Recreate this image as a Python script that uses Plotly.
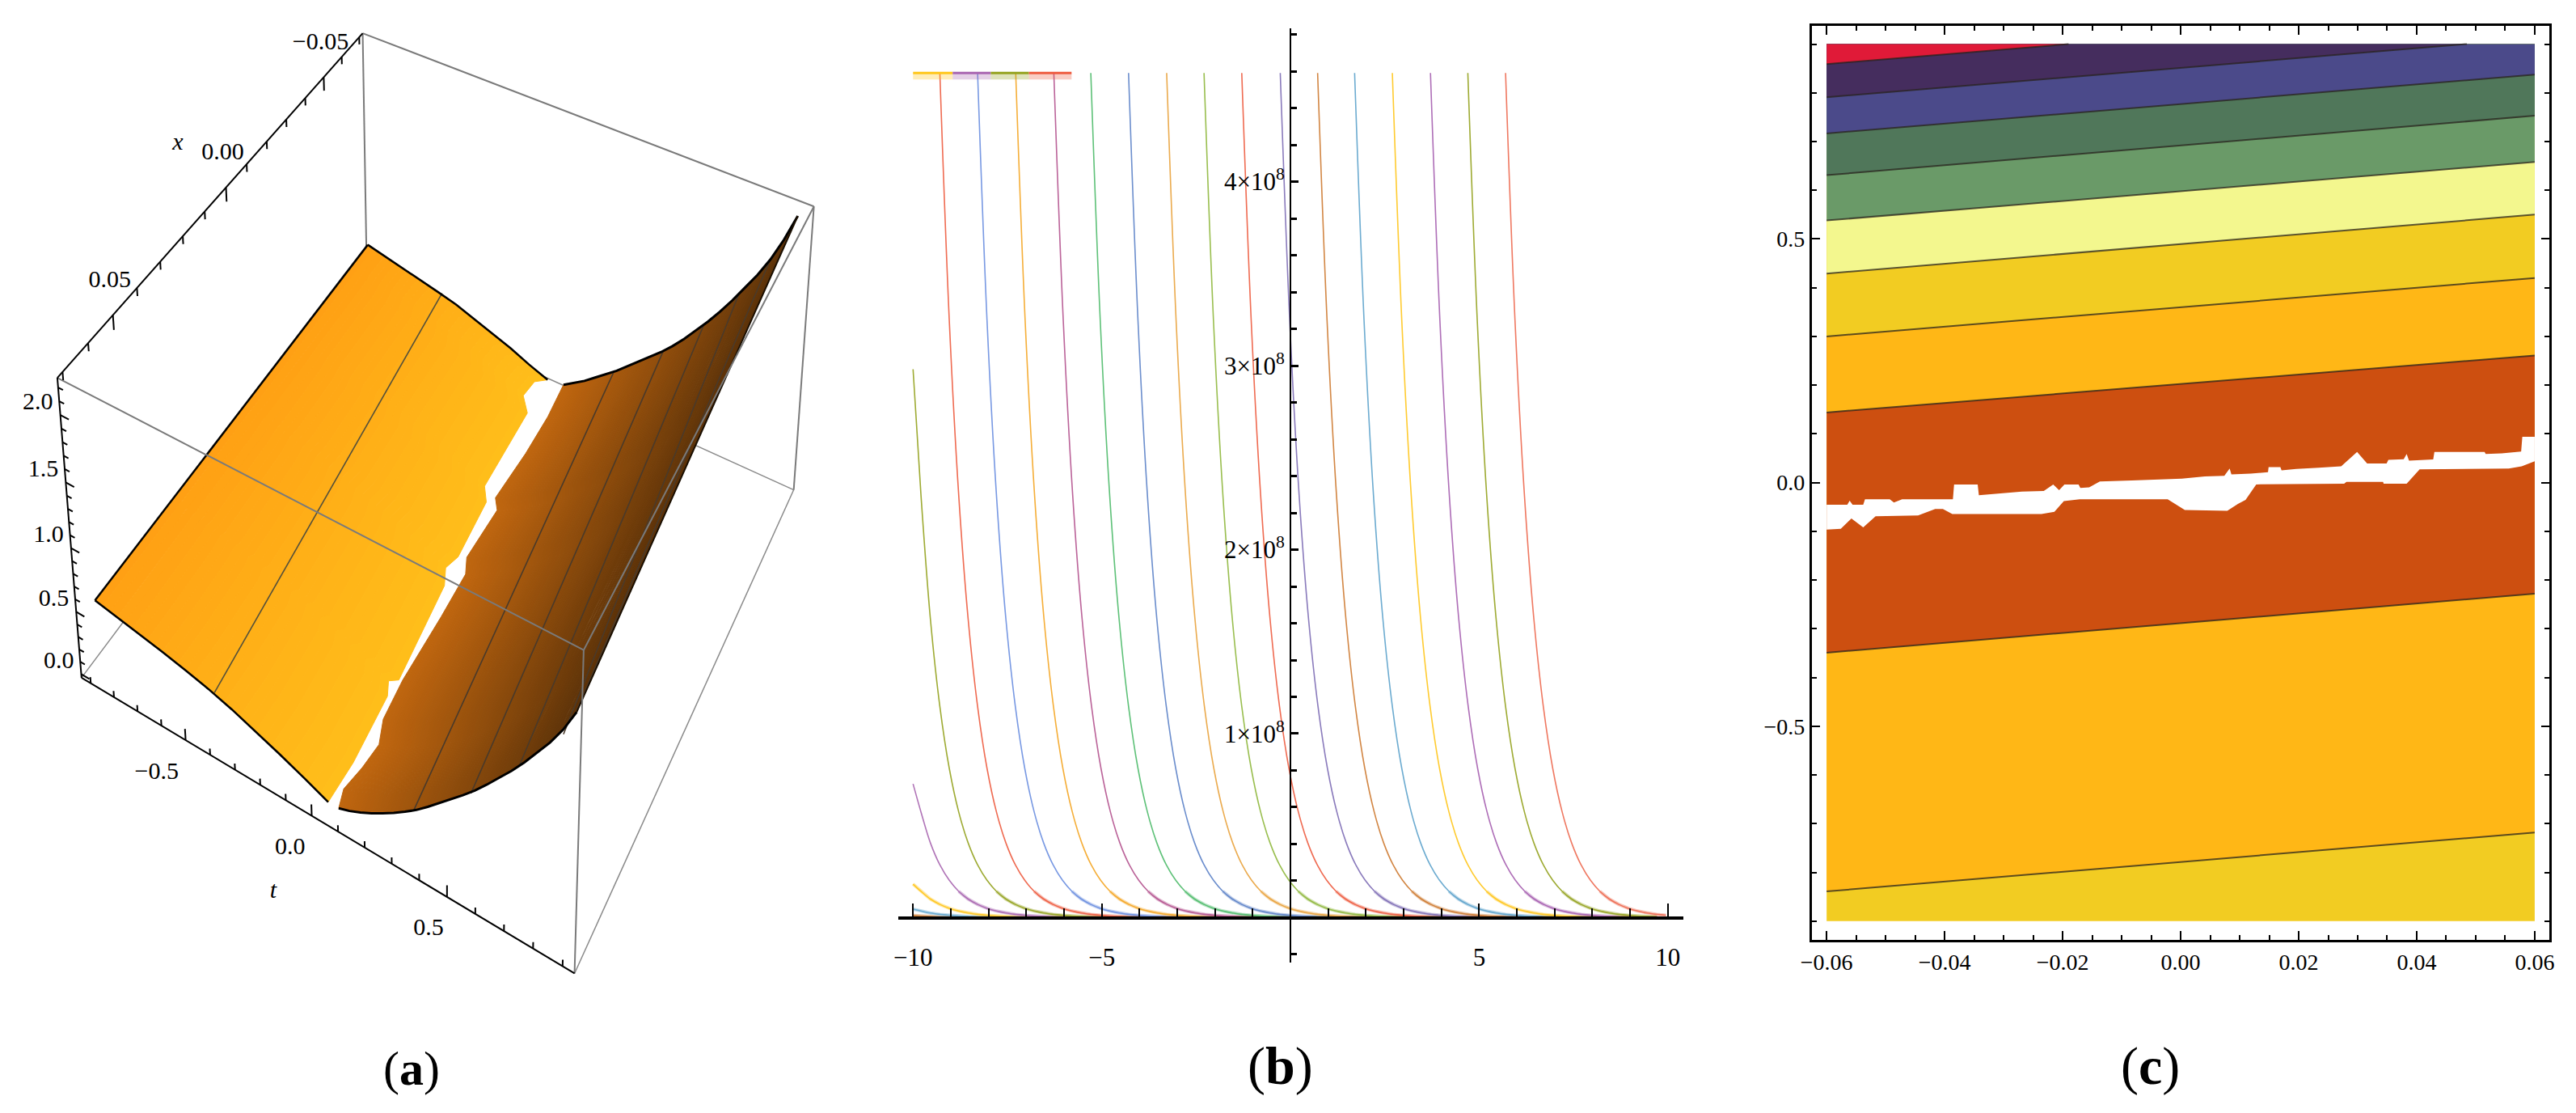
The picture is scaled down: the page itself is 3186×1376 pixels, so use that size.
import numpy as np
import plotly.graph_objects as go

W, H = 3186, 1376
SERIF = "Liberation Serif"

# ---------- panel (b) data (values in units of 1e8) ----------
curve_top_x = [-14.29, -13.29, -12.29, -11.29, -10.29, -9.29, -8.29, -7.28, -6.27, -5.29, -4.29,
               -3.28, -2.29, -1.29, -0.27, 0.72, 1.70, 2.70, 3.71, 4.70, 5.70]
curve_start_left = [0.0115, 0.046, 0.182, 0.727, 2.98, None, None, None, None, None, None,
                    None, None, None, None, None, None, None, None, None, None]
curve_colors = ["#C9792F", "#62A7CF", "#FFC61A", "#A865B0", "#94A21E", "#EE5B3F", "#6A8EE0", "#F5A623",
                "#B4538F", "#4DBB6A", "#5C82C8", "#E9A23B", "#8FB83C", "#EE5B3F", "#7E6DB5", "#CE7A30",
                "#5DA3CC", "#FFC61A", "#A65FB0", "#94A21E", "#EE6A50"]
shape_d = [0, .25, .5, .75, 1, 1.25, 1.5, 1.75, 2, 2.25, 2.5, 2.75, 3, 3.25, 3.5, 3.75, 4, 4.25, 4.5, 4.75, 5,
           5.5, 6, 7, 9, 12, 16, 20, 25]
shape_y = [4.59, 3.245, 2.295, 1.622, 1.148, .811, .574, .406, .287, .203, .143, .101, .072, .051, .036, .025,
           .018, .013, .009, .0063, .0045, .0022, .0011, .0003, .00002, 0, 0, 0, 0]
top_seg_x0 = [-10.0, -8.95, -7.94, -6.93]
top_seg_x1 = [-8.95, -7.94, -6.93, -5.80]
top_seg_colors = ["#FFC61A", "#A865B0", "#94A21E", "#EE5B3F"]
top_level = 4.59
b_major_y = [1, 2, 3, 4]
b_labels_y = ["1×10<sup>8</sup>", "2×10<sup>8</sup>", "3×10<sup>8</sup>", "4×10<sup>8</sup>"]
b_minor_y = [-.2, 0, .2, .4, .6, .8, 1.2, 1.4, 1.6, 1.8, 2.2, 2.4, 2.6, 2.8, 3.2, 3.4, 3.6, 3.8, 4.2, 4.4, 4.6, 4.8]
b_major_x = [-10, -5, 5, 10]
b_labels_x = ["−10", "−5", "5", "10"]
b_minor_x = [-9, -8, -7, -6, -4, -3, -2, -1, 1, 2, 3, 4, 6, 7, 8, 9]

# ---------- panel (c) data ----------
band_colors = ["#F2CC22", "#FFB716", "#CD4F10", "#FFB716", "#F2CC22", "#F3F78E", "#6A9A68", "#50775A",
               "#4B4A8A", "#452D5E", "#E01A38"]
bound_x1 = [.06, .06, .06, .06, .06, .06, .06, .06, .0485, -.019]
bound_left = [-.839, -.349, .144, .30, .429, .538, .631, .7166, .791, .859]
bound_right = [-.718, -.228, .261, .42, .55, .658, .753, .8374, .90, .90]
gap_up_x = [-.06, -.0565, -.0561, -.0556, -.0538, -.0535, -.0493, -.0486, -.0472, -.0386, -.0384, -.0344, -.0342,
            -.0306, -.0269, -.0232, -.0216, -.0206, -.0197, -.0173, -.0170, -.0155, -.0137, -.0083, .0002, .0041,
            .0074, .0083, .0086, .0119, .0148, .0149, .0169, .0171, .0196, .0234, .0272, .0299, .0316, .0349,
            .0352, .0378, .0383, .0387, .0428, .0430, .0515, .0517, .0544, .0577, .0579, .06]
gap_up_t = [-.0452, -.0452, -.0371, -.0452, -.0452, -.0341, -.0341, -.0408, -.0341, -.0341, -.0037, -.0037, -.0259,
            -.0222, -.0185, -.0170, -.0037, -.0156, -.0037, -.0037, -.0111, -.0096, .0022, .0044, .0082, .0126,
            .0141, .0289, .0170, .0185, .0215, .0319, .0319, .0252, .0282, .0304, .0334, .0630, .0393, .0393,
            .0467, .0482, .0586, .0452, .0474, .0630, .0630, .0586, .0600, .0638, .0941, .0941]
gap_lo_x = [-.06, -.0576, -.0558, -.0538, -.0517, -.0445, -.0416, -.0403, -.0387, -.0236, -.0214, -.0198, -.0171,
            -.0022, .0007, .0079, .0097, .0110, .0128, .0277, .0281, .0343, .0344, .0383, .0405, .0556, .0578, .06]
gap_lo_t = [-.0964, -.0949, -.0734, -.0919, -.0689, -.0675, -.0541, -.0541, -.0645, -.0645, -.0600, -.0378, -.0341,
            -.0341, -.0563, -.0578, -.0437, -.0356, -.0037, -.0022, .0015, .0015, -.0022, -.0022, .0274, .0289,
            .0334, .0437]
c_major_x = [-.06, -.04, -.02, 0, .02, .04, .06]
c_labels_x = ["−0.06", "−0.04", "−0.02", "0.00", "0.02", "0.04", "0.06"]
c_minor_x = [-.055, -.05, -.045, -.035, -.03, -.025, -.015, -.01, -.005, .005, .01, .015, .025, .03, .035, .045, .05, .055]
c_major_y = [-.5, 0, .5]
c_labels_y = ["−0.5", "0.0", "0.5"]
c_minor_y = [-.9, -.8, -.7, -.6, -.4, -.3, -.2, -.1, .1, .2, .3, .4, .6, .7, .8, .9]
t_edge = 0.9
x_edge_c = 0.06

# ---------- panel (a) data ----------
x_edge_a = 0.068
a_gap_lo_x = [-.068, -.0655, -.0595, -.0547, -.0487, -.0272, -.0230, -.0045, 0.0, .0047, .0332, .0347, .0383, .0569, .068]
a_gap_lo_t = [-.07, -.1117, -.1211, -.0707, -.0704, -.0663, -.0293, -.0151, -.0339, -.0043, .0266, -.0027, .0211, .0353, .03]
a_gap_up_x = [-.068, -.0558, -.0418, -.0250, -.0218, -.0052, -.0007, .0131, .0329, .0440, .0500, .0569, .0635, .068]
a_gap_up_t = [0, .0107, .0088, -.0048, .0247, .0157, .0431, .0442, .0396, .0494, .08, .07, .0523, .07]
left_s = [0, .1, .2, .3, .4, .5, .6, .7, .8, .9, 1]
left_h_front = [.534, .50, .465, .43, .39, .345, .29, .225, .155, .08, 0]
left_h_back = [.55, .515, .48, .445, .405, .365, .31, .255, .195, .125, .064]
right_s = [0, .05, .1, .15, .2, .25, .3, .35, .4, .45, .5, .55, .6, .65, .7, .75, .8, .85, .9, .95, 1]
right_h_front = [0, .03, .07, .115, .165, .22, .28, .345, .42, .5, .58, .66, .745, .84, .94, 1.04, 1.15, 1.27, 1.39, 1.53, 1.7]
right_h_back = [.084, .14, .2, .27, .34, .41, .49, .57, .65, .73, .82, .92, 1.03, 1.14, 1.26, 1.39, 1.53, 1.67, 1.83, 2.02, 2.24]
mesh_left_t = [-.55, -.41]
mesh_left_z = [.41, .344]
mesh_t_back = [.215, .415, .57, .70, .81]
mesh_t_front = [.353, .555, .717, .86, .90]
mesh_z_back = [.40, .755, 1.1, 1.47, 1.83]
mesh_z_front = [.34, .71, 1.10, 1.50, 1.71]
box_x = [-.072, .072]
box_t = [-.94, .94]
box_z = [-.03, 2.27]
a_t_major = [-.5, 0, .5]
a_t_labels = ["−0.5", "0.0", "0.5"]
a_t_dx = [-36, -27, -23]
a_t_minor = [-.9, -.8, -.7, -.6, -.4, -.3, -.2, -.1, .1, .2, .3, .4, .6, .7, .8, .9]
a_x_major = [-.05, 0, .05]
a_x_labels = ["−0.05", "0.00", "0.05"]
a_x_minor = [-.07, -.06, -.04, -.03, -.02, -.01, .01, .02, .03, .04, .06, .07]
a_z_major = [0, .5, 1, 1.5, 2]
a_z_labels = ["0.0", "0.5", "1.0", "1.5", "2.0"]
a_z_minor = [.1, .2, .3, .4, .6, .7, .8, .9, 1.1, 1.2, 1.3, 1.4, 1.6, 1.7, 1.8, 1.9, 2.1, 2.2]
left_colors = ("#FFA014", "#FFBE1A")
right_colors = ("#C0660F", "#5A3108")

# View calibration of the drawn box: (x side, t side, z side) -> where that corner sits in panel (a)
view_sides = [(1, -1, 1), (-1, -1, 1), (-1, 1, 1), (1, 1, 1), (1, -1, -1), (1, 1, -1), (-1, 1, -1)]
view_u = [57, 437, 999, 713, 88, 700, 974]
view_v = [467, 41, 256, 803, 838, 1204, 605]

rows_ = []
for (a_, b_, c_), u_, v_ in zip(view_sides, view_u, view_v):
    u_, v_ = u_/1000, v_/1000
    rows_.append([a_, b_, c_, 1, 0, 0, 0, 0, -u_*a_, -u_*b_, -u_*c_, -u_])
    rows_.append([0, 0, 0, 0, a_, b_, c_, 1, -v_*a_, -v_*b_, -v_*c_, -v_])
CAM = np.linalg.svd(np.array(rows_, float))[2][-1].reshape(3, 4)
bx0, bx1 = box_x; bt0, bt1 = box_t; bz0, bz1 = box_z


def project(x, t, z):
    x, t, z = np.asarray(x, float), np.asarray(t, float), np.asarray(z, float)
    h = np.stack([(x-(bx0+bx1)/2)/((bx1-bx0)/2), (t-(bt0+bt1)/2)/((bt1-bt0)/2), (z-(bz0+bz1)/2)/((bz1-bz0)/2),
                  np.ones_like(x)])
    q = CAM@h
    return q[0]/q[2]*1000, q[1]/q[2]*1000


fig = go.Figure()


def seg2d(segs, color, width):
    xs, ys = [], []
    for (p, q) in segs:
        a, b = project(*p), project(*q)
        xs += [float(a[0]), float(b[0]), None]
        ys += [float(a[1]), float(b[1]), None]
    fig.add_trace(go.Scatter(x=xs, y=ys, mode="lines", line=dict(color=color, width=width), xaxis="x3", yaxis="y3",
                             hoverinfo="skip", showlegend=False))


def path2d(x, t, z, color, width):
    a, b = project(x, t, z)
    fig.add_trace(go.Scatter(x=a, y=b, mode="lines", line=dict(color=color, width=width), xaxis="x3", yaxis="y3",
                             hoverinfo="skip", showlegend=False))


def mix(c0, c1, f):
    a = [int(c0[i:i+2], 16) for i in (1, 3, 5)]
    b = [int(c1[i:i+2], 16) for i in (1, 3, 5)]
    return "rgb(%d,%d,%d)" % tuple(round(p+(q-p)*f) for p, q in zip(a, b))


def strips(X_, T_, Z_, S_, colors, parts):
    for i in range(len(S_)-1):
        for k in range(parts):
            f0, f1 = k/parts, (k+1)/parts
            sm = S_[i]+(S_[i+1]-S_[i])*(f0+f1)/2
            col = mix(colors[0], colors[1], sm)
            a0, b0 = project(X_[i], T_[i]+(T_[i+1]-T_[i])*f0, Z_[i]+(Z_[i+1]-Z_[i])*f0)
            a1, b1 = project(X_[i], T_[i]+(T_[i+1]-T_[i])*f1, Z_[i]+(Z_[i+1]-Z_[i])*f1)
            fig.add_trace(go.Scatter(x=np.r_[a0, a1[::-1]], y=np.r_[b0, b1[::-1]], mode="lines", fill="toself",
                                     fillcolor=col, line=dict(color=col, width=1), xaxis="x3", yaxis="y3",
                                     hoverinfo="skip", showlegend=False))


# back box edges, hidden by the surface where they pass beneath it
seg2d([((bx0, bt1, bz0), (bx1, bt1, bz0)), ((bx0, bt1, bz0), (bx0, bt0, bz0)), ((bx0, bt0, bz0), (bx1, bt0, bz0))],
      "#8A8A8A", 1.5)
seg2d([((bx0, bt0, bz1), (bx0, bt0, bz0)), ((bx0, bt1, bz0), (bx0, bt1, bz1))], "#7A7A7A", 2)

lx = np.array(a_gap_lo_x); lt = np.array(a_gap_lo_t)
ls = np.array(left_s)[:, None]
LX = np.tile(lx, (len(left_s), 1))
LT = -t_edge + ls*(lt+t_edge)
lblend = (lx+x_edge_a)/(2*x_edge_a)
LZ = np.array(left_h_back)[:, None]*(1-lblend) + np.array(left_h_front)[:, None]*lblend
strips(LX, LT, LZ, left_s, left_colors, 3)

ux = np.array(a_gap_up_x); ut = np.array(a_gap_up_t)
rs = np.array(right_s)[:, None]
RX = np.tile(ux, (len(right_s), 1))
RT = ut + rs*(t_edge-ut)
blend = (ux+x_edge_a)/(2*x_edge_a)
RZ = np.array(right_h_back)[:, None]*(1-blend) + np.array(right_h_front)[:, None]*blend
strips(RX, RT, RZ, right_s, right_colors, 3)

# mesh lines on the surface
path2d([-x_edge_a, x_edge_a], mesh_left_t, mesh_left_z, "#55503A", 1.6)
for tb, tf, zb, zf in zip(mesh_t_back, mesh_t_front, mesh_z_back, mesh_z_front):
    path2d([-x_edge_a, x_edge_a], [tb, tf], [zb, zf], "#4A3A2A", 1.6)

# surface outline
path2d(LX[:, 0], LT[:, 0], LZ[:, 0], "#000000", 2.5)
path2d(LX[:, -1], LT[:, -1], LZ[:, -1], "#000000", 2.5)
path2d(LX[0], LT[0], LZ[0], "#000000", 2.5)
path2d(RX[:, 0], RT[:, 0], RZ[:, 0], "#000000", 3)
path2d(RX[:, -1], RT[:, -1], RZ[:, -1], "#000000", 3)
path2d(RX[-1], RT[-1], RZ[-1], "#1A0F02", 2)

# front box edges, drawn over the surface
seg2d([((bx1, bt0, bz1), (bx1, bt1, bz1)), ((bx1, bt1, bz1), (bx0, bt1, bz1)), ((bx0, bt1, bz1), (bx0, bt0, bz1)),
       ((bx1, bt1, bz1), (bx1, bt1, bz0))], "#7A7A7A", 2)

# axis edges and ticks
axis_segs = [((bx1, bt0, bz0), (bx1, bt1, bz0)), ((bx1, bt0, bz1), (bx0, bt0, bz1)), ((bx1, bt0, bz0), (bx1, bt0, bz1))]
for vals, ln in ((a_t_major, .09), (a_t_minor, .05)):
    axis_segs += [((bx1, v, bz0), (bx1, v, bz0+ln)) for v in vals]
for vals, ln in ((a_x_major, .11), (a_x_minor, .06)):
    axis_segs += [((v, bt0, bz1), (v, bt0, bz1-ln)) for v in vals]
for vals, ln in ((a_z_major, .035), (a_z_minor, .02)):
    axis_segs += [((bx1, bt0, v), (bx1, bt0+ln, v)) for v in vals]
seg2d(axis_segs, "#000000", 2)


def tick_text(x, t, z, text, dx, dy, size=30):
    a, b = project(x, t, z)
    fig.add_trace(go.Scatter(x=[float(a)+dx], y=[float(b)+dy], mode="text", text=[text], textposition="middle center",
                             textfont=dict(family=SERIF, size=size, color="#000"), xaxis="x3", yaxis="y3",
                             hoverinfo="skip", showlegend=False, cliponaxis=False))


for v, s_, dx_ in zip(a_t_major, a_t_labels, a_t_dx):
    tick_text(bx1, v, bz0, s_, dx_, 40)
for v, s_ in zip(a_x_major, a_x_labels):
    tick_text(v, bt0, bz1, s_, -4, -42)
for v, s_ in zip(a_z_major, a_z_labels):
    tick_text(bx1, bt0, v, s_, -28, -15)
tick_text(0, bt0, bz1, "<i>x</i>", -60, -54)
tick_text(bx1, 0, bz0, "<i>t</i>", -48, 94)

# ---------- panel (b) traces ----------
for xt, st, col in zip(curve_top_x, curve_start_left, curve_colors):
    xs = [xt+d for d in shape_d]
    keep = [i for i, x in enumerate(xs) if -10 <= x <= 10]
    px_ = [xs[i] for i in keep]
    py_ = [shape_y[i]*1e8 for i in keep]
    if st is not None:
        px_ = [-10] + px_
        py_ = [st*1e8] + py_
    fig.add_trace(go.Scatter(x=px_, y=py_, mode="lines", line=dict(color=col, width=1.6, shape="spline"),
                             opacity=.9, xaxis="x", yaxis="y", hoverinfo="skip", showlegend=False))
    low = [i for i, v in enumerate(py_) if v <= .2e8]
    fig.add_trace(go.Scatter(x=[px_[i] for i in low], y=[py_[i] for i in low], mode="lines",
                             line=dict(color=col, width=4), opacity=.4, xaxis="x", yaxis="y",
                             hoverinfo="skip", showlegend=False))
for x0, x1, col in zip(top_seg_x0, top_seg_x1, top_seg_colors):
    fig.add_trace(go.Scatter(x=[x0, x1], y=[(top_level-.02)*1e8]*2, mode="lines", line=dict(color=col, width=7),
                             opacity=.3, xaxis="x", yaxis="y", hoverinfo="skip", showlegend=False))
    fig.add_trace(go.Scatter(x=[x0, x1], y=[top_level*1e8]*2, mode="lines", line=dict(color=col, width=3),
                             xaxis="x", yaxis="y", hoverinfo="skip", showlegend=False))


# ---------- panel (c) traces ----------
def band(xs, ys, col):
    fig.add_trace(go.Scatter(x=xs, y=ys, mode="lines", fill="toself", fillcolor=col, line=dict(width=0),
                             xaxis="x2", yaxis="y2", hoverinfo="skip", showlegend=False))


band([-x_edge_c, x_edge_c, x_edge_c, -x_edge_c], [-t_edge, -t_edge, t_edge, t_edge], band_colors[0])
for i, col in enumerate(band_colors[1:]):
    x1, yl, yr = bound_x1[i], bound_left[i], bound_right[i]
    if x1 >= x_edge_c:
        band([-x_edge_c, x_edge_c, x_edge_c, -x_edge_c], [yl, yr, t_edge, t_edge], col)
    else:
        band([-x_edge_c, x1, -x_edge_c], [yl, yr, t_edge], col)
band(gap_up_x + gap_lo_x[::-1], gap_up_t + gap_lo_t[::-1], "#FFFFFF")
for x1, yl, yr in zip(bound_x1, bound_left, bound_right):
    fig.add_trace(go.Scatter(x=[-x_edge_c, x1], y=[yl, yr], mode="lines", line=dict(color="rgba(40,35,30,.75)", width=2),
                             xaxis="x2", yaxis="y2", hoverinfo="skip", showlegend=False))

font_tick = dict(family=SERIF, size=31, color="#000")
font_c = dict(family=SERIF, size=28, color="#000")


def py(px):
    return 1-px/H


captions = [("(<b>a</b>)", 498, 1321, 60), ("(<b>b</b>)", 1579, 1318, 66), ("(<b>c</b>)", 2662, 1318, 66)]
for t, x, y, s in captions:
    fig.add_annotation(text=t, x=x/W, y=py(y), xref="paper", yref="paper", showarrow=False, xanchor="center",
                       yanchor="middle", font=dict(family=SERIF, size=s, color="#000"))

fig.update_layout(
    width=W, height=H, margin=dict(l=0, r=0, t=0, b=0), paper_bgcolor="white", plot_bgcolor="rgba(0,0,0,0)",
    showlegend=False,
    xaxis3=dict(domain=[0, 1060/W], range=[0, 1060], anchor="y3", visible=False, fixedrange=True),
    yaxis3=dict(domain=[0, 1], range=[H, 0], anchor="x3", visible=False, fixedrange=True),
    xaxis=dict(domain=[1104/W, 2081/W], range=[-10.39, 10.41], anchor="free", position=py(1134.5),
               showgrid=False, zeroline=False, showline=True, linecolor="#000", linewidth=4,
               ticks="inside", ticklen=16, tickwidth=2, tickcolor="#000", tickmode="array",
               tickvals=b_major_x, ticktext=b_labels_x, tickfont=font_tick, ticklabelstandoff=20,
               minor=dict(tickmode="array", tickvals=b_minor_x, ticks="inside", ticklen=10, tickwidth=2, tickcolor="#000")),
    yaxis=dict(domain=[py(1190), py(35)], range=[-.244e8, 4.833e8], anchor="free", position=1592/W,
               showgrid=False, zeroline=False, showline=True, linecolor="#000", linewidth=2,
               ticks="inside", ticklen=9, tickwidth=3, tickcolor="#000", tickmode="array",
               tickvals=[v*1e8 for v in b_major_y], ticktext=b_labels_y, tickfont=font_tick,
               minor=dict(tickmode="array", tickvals=[v*1e8 for v in b_minor_y], ticks="inside", ticklen=7, tickwidth=3, tickcolor="#000")),
    xaxis2=dict(domain=[2241/W, 3159/W], range=[-.0625, .0625], anchor="y2", showgrid=False, zeroline=False,
                showline=True, linecolor="#000", linewidth=3, mirror="ticks",
                ticks="inside", ticklen=11, tickwidth=2, tickcolor="#000", tickmode="array",
                tickvals=c_major_x, ticktext=c_labels_x, tickfont=font_c,
                minor=dict(tickmode="array", tickvals=c_minor_x, ticks="inside", ticklen=6, tickwidth=2, tickcolor="#000")),
    yaxis2=dict(domain=[py(1162), py(32)], range=[-.9385, .9374], anchor="x2", showgrid=False, zeroline=False,
                showline=True, linecolor="#000", linewidth=3, mirror="ticks",
                ticks="inside", ticklen=10, tickwidth=2, tickcolor="#000", tickmode="array",
                tickvals=c_major_y, ticktext=c_labels_y, tickfont=font_c,
                minor=dict(tickmode="array", tickvals=c_minor_y, ticks="inside", ticklen=6, tickwidth=2, tickcolor="#000")),
)

fig.write_html("out.html", config={"displayModeBar": False},
               post_script="document.body.style.margin='0';document.body.style.overflow='hidden';")
